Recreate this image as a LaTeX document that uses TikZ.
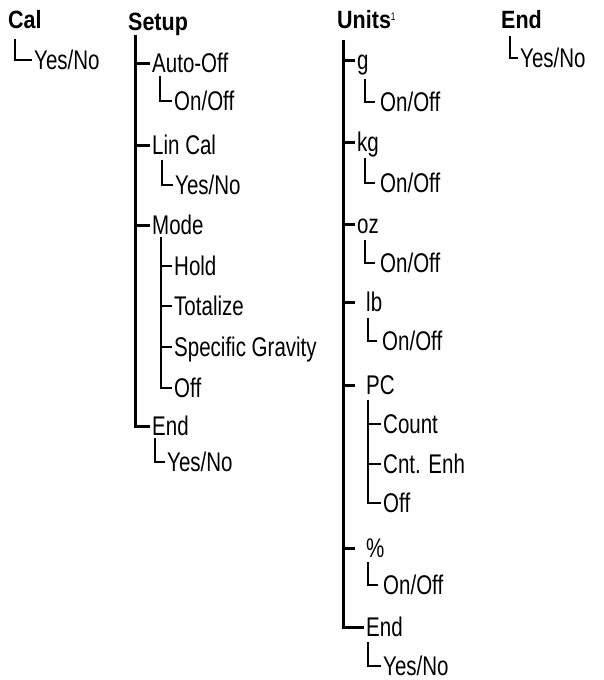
\documentclass[tikz,border=0pt]{standalone}
\usepackage{fontspec}
\setmainfont{Liberation Sans}[FakeStretch=0.76]
\newfontfamily\headfont{Liberation Sans}[FakeStretch=0.86]
\begin{document}
\begin{tikzpicture}[x=1pt,y=-1pt,
  lbl/.style={anchor=west, inner xsep=2pt, inner ysep=0pt,
    font=\fontsize{27}{27}\selectfont, text height=19pt, text depth=0pt},
  head/.style={anchor=base west, inner sep=0pt,
    font=\headfont\bfseries\fontsize{25}{25}\selectfont},
  trunk/.style={line width=3pt, line join=miter},
  twig/.style={line width=2.3pt, line join=miter}]
\useasboundingbox (0,0) rectangle (604,680);

% ---------------- Cal
\node[head] (cal) at (8,28) {Cal};
\node[lbl] (calyes) at (32,60) {Yes/No};
\coordinate (calL) at (15,39);
\draw[twig] (calL) |- (calyes.west);

% ---------------- Setup
\node[head] (setup) at (128,30) {Setup};
\coordinate (st) at (135,35);
\node[lbl] (autooff) at (150,63) {Auto-Off};
\node[lbl] (onoff1) at (172,101) {On/Off};
\node[lbl] (lincal) at (150,145) {Lin Cal};
\node[lbl] (yesno1) at (173,185) {Yes/No};
\node[lbl] (mode) at (150,225) {Mode};
\node[lbl] (hold) at (172,266) {Hold};
\node[lbl] (totalize) at (172,306) {Totalize};
\node[lbl] (specgrav) at (172,347) {Specific Gravity};
\node[lbl] (offm) at (172,388) {Off};
\node[lbl] (endS) at (150,426) {End};
\node[lbl] (yesno2) at (165,462) {Yes/No};

\draw[trunk] (st) |- (autooff.west);
\draw[trunk] (st) |- (lincal.west);
\draw[trunk] (st) |- (mode.west);
\draw[trunk] (st) |- (endS.west);

\coordinate (aoL) at (160,76);
\draw[twig] (aoL) |- (onoff1.west);
\coordinate (lcL) at (162,160);
\draw[twig] (lcL) |- (yesno1.west);
\coordinate (mt) at (161,237);
\draw[twig] (mt) |- (hold.west);
\draw[twig] (mt) |- (totalize.west);
\draw[twig] (mt) |- (specgrav.west);
\draw[twig] (mt) |- (offm.west);
\coordinate (enL) at (155,438);
\draw[twig] (enL) |- (yesno2.west);

% ---------------- Units
\node[head] (units) at (337,28) {Units\raisebox{8pt}{\normalfont\fontsize{11}{11}\selectfont 1}};
\coordinate (ut) at (343,40);
\node[lbl] (g) at (355,60) {g};
\node[lbl] (ong) at (378,102) {On/Off};
\node[lbl] (kg) at (355,142) {kg};
\node[lbl] (onkg) at (378,183) {On/Off};
\node[lbl] (oz) at (355,224) {oz};
\node[lbl] (onoz) at (378,263) {On/Off};
\node[lbl] (lb) at (364,302) {lb};
\node[lbl] (onlb) at (380,341) {On/Off};
\node[lbl] (pc) at (364,385) {PC};
\node[lbl] (count) at (381,424) {Count};
\node[lbl] (cnt) at (381,464) {Cnt. Enh};
\node[lbl] (offp) at (381,503) {Off};
\node[lbl] (pct) at (364,548) {\%};
\node[lbl] (onpct) at (381,585) {On/Off};
\node[lbl] (endU) at (364,627) {End};
\node[lbl] (yesno3) at (381,666) {Yes/No};

\draw[trunk] (ut) |- (g.west);
\draw[trunk] (ut) |- (kg.west);
\draw[trunk] (ut) |- (oz.west);
\draw[trunk] (ut) |- ([xshift=-9pt]lb.west);
\draw[trunk] (ut) |- ([xshift=-9pt]pc.west);
\draw[trunk] (ut) |- ([xshift=-9pt]pct.west);
\draw[trunk] (ut) |- (endU.west);

\coordinate (gL) at (365,79);
\draw[twig] (gL) |- ([xshift=-3pt]ong.west);
\coordinate (kgL) at (365,158);
\draw[twig] (kgL) |- ([xshift=-3pt]onkg.west);
\coordinate (ozL) at (365,240);
\draw[twig] (ozL) |- ([xshift=-3pt]onoz.west);
\coordinate (lbL) at (368,318);
\draw[twig] (lbL) |- ([xshift=-3pt]onlb.west);
\coordinate (pt) at (368,400);
\draw[twig] (pt) |- (count.west);
\draw[twig] (pt) |- (cnt.west);
\draw[twig] (pt) |- (offp.west);
\coordinate (pctL) at (368,562);
\draw[twig] (pctL) |- ([xshift=-3pt]onpct.west);
\coordinate (enUL) at (368,642);
\draw[twig] (enUL) |- (yesno3.west);

% ---------------- End
\node[head] (endH) at (501,28) {End};
\node[lbl] (endyes) at (518,58) {Yes/No};
\coordinate (endL) at (510,36);
\draw[twig] (endL) |- (endyes.west);
\end{tikzpicture}
\end{document}
